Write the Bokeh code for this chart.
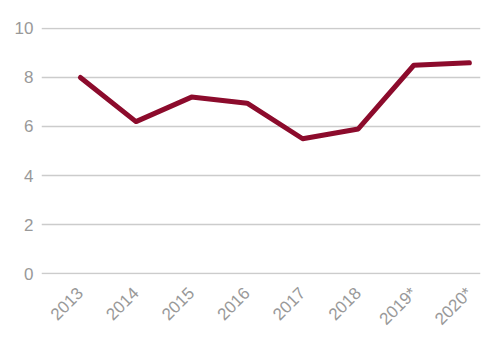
import math
from bokeh.plotting import figure
from bokeh.models import Range1d, FixedTicker
from bokeh.embed import file_html
from bokeh.resources import INLINE

years = [2013, 2014, 2015, 2016, 2017, 2018, 2019, 2020]
labels = ["2013", "2014", "2015", "2016", "2017", "2018", "2019*", "2020*"]
values = [8.0, 6.2, 7.2, 6.95, 5.5, 5.9, 8.5, 8.6]
y_ticks = [0, 2, 4, 6, 8, 10]

p = figure(width=500, height=348, output_backend="svg", toolbar_location=None,
           x_range=Range1d(2012.3, 2020.2), y_range=Range1d(-0.04, 10.04),
           min_border_left=41, min_border_right=20, min_border_top=27, min_border_bottom=74)
p.outline_line_color = None
p.background_fill_color = "white"
p.border_fill_color = "white"

p.line(years, values, line_color="#8c0b2c", line_width=5, line_join="round", line_cap="round")

p.xgrid.grid_line_color = None
p.ygrid.grid_line_color = "#cccccc"
p.ygrid.grid_line_width = 1.5
p.yaxis.ticker = FixedTicker(ticks=y_ticks)
p.xaxis.ticker = FixedTicker(ticks=years)
p.xaxis.major_label_overrides = {y: l for y, l in zip(years, labels)}
p.xaxis.major_label_orientation = math.pi / 4

for ax in (p.xaxis, p.yaxis):
    ax.axis_line_color = None
    ax.major_tick_line_color = None
    ax.minor_tick_line_color = None
    ax.major_label_text_color = "#999999"
    ax.major_label_text_font = "Liberation Sans"
    ax.major_label_text_font_size = "17px"
p.yaxis.major_label_standoff = 2
p.xaxis.major_label_standoff = 10

open("out.html", "w").write(file_html(p, INLINE))
